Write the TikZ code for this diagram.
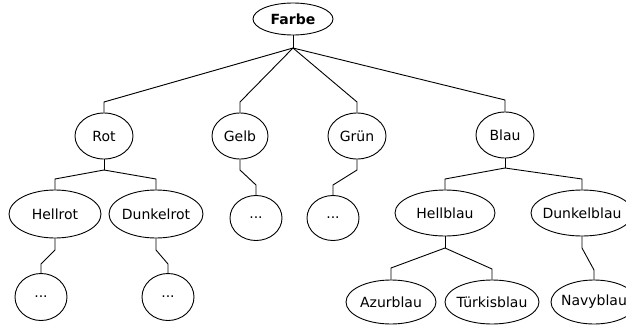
\documentclass[tikz,border=0pt]{standalone}
\usepackage{fontspec}
\setmainfont{DejaVu Sans}
\usetikzlibrary{shapes.geometric}
\tikzset{
  blob/.style={draw, ellipse, inner sep=0pt, line width=0.9pt, font=\fontsize{14}{16}\selectfont},
  link/.style={line width=0.9pt}
}
\newcommand{\blobnode}[6]{\node[blob, minimum width=#4pt, minimum height=#5pt] (#1) at (#2,#3) {\makebox[0pt]{#6}};}
\begin{document}
\begin{tikzpicture}[x=1pt,y=-1pt]
\useasboundingbox (0,0) rectangle (626,324);
% nodes
\blobnode{farbe}{293}{19}{80}{32}{\textbf{Farbe}}
\blobnode{rot}{104}{136}{58}{46}{Rot}
\blobnode{gelb}{240}{136}{56}{46}{Gelb}
\blobnode{gruen}{357}{136}{58}{46}{Grün}
\blobnode{blau}{505}{135}{58}{46}{Blau}
\blobnode{hellrot}{55}{214}{92}{48}{Hellrot}
\blobnode{dunkelrot}{156}{214}{94}{48}{Dunkelrot}
\blobnode{gd}{256}{218}{52}{45}{...}
\blobnode{grd}{333}{218}{52}{45}{...}
\blobnode{hellblau}{445}{213}{100}{46}{Hellblau}
\blobnode{dunkelblau}{582}{213}{102}{46}{Dunkelblau}
\blobnode{hrd}{41}{297}{52}{47}{...}
\blobnode{drd}{168}{297}{52}{47}{...}
\blobnode{azur}{391}{302}{90}{44}{Azurblau}
\blobnode{tuerkis}{492}{302}{94}{44}{Türkisblau}
\blobnode{navy}{594}{302}{86}{44}{Navyblau}
% bend points
\coordinate (j0) at (293,48);
\coordinate (kRot) at (104,102);
\coordinate (kGelb) at (240,102);
\coordinate (kGruen) at (357,102);
\coordinate (kBlau) at (505,100);
\coordinate (jRot) at (104,170);
\coordinate (kHr) at (55,179);
\coordinate (kDr) at (156,179);
\coordinate (jGelb) at (240,170);
\coordinate (kGd) at (256,185);
\coordinate (jGruen) at (357,170);
\coordinate (kGrd) at (333,185);
\coordinate (jHr) at (55,250);
\coordinate (kHrd) at (41,264);
\coordinate (jDr) at (156,250);
\coordinate (kDrd) at (168,264);
\coordinate (jBlau) at (505,168);
\coordinate (kHb) at (445,179);
\coordinate (kDb) at (582,179);
\coordinate (jHb) at (445,248);
\coordinate (kAz) at (391,268);
\coordinate (kTu) at (492,269);
\coordinate (jDb) at (582,248);
\coordinate (kNa) at (594,270);
% connectors
\draw[link] (farbe) -- (j0);
\draw[link] (j0) -- (kRot) -- (rot);
\draw[link] (j0) -- (kGelb) -- (gelb);
\draw[link] (j0) -- (kGruen) -- (gruen);
\draw[link] (j0) -- (kBlau) -- (blau);
\draw[link] (rot) -- (jRot);
\draw[link] (jRot) -- (kHr) -- (hellrot);
\draw[link] (jRot) -- (kDr) -- (dunkelrot);
\draw[link] (gelb) -- (jGelb) -- (kGd) -- (gd);
\draw[link] (gruen) -- (jGruen) -- (kGrd) -- (grd);
\draw[link] (hellrot) -- (jHr) -- (kHrd) -- (hrd);
\draw[link] (dunkelrot) -- (jDr) -- (kDrd) -- (drd);
\draw[link] (blau) -- (jBlau);
\draw[link] (jBlau) -- (kHb) -- (hellblau);
\draw[link] (jBlau) -- (kDb) -- (dunkelblau);
\draw[link] (hellblau) -- (jHb);
\draw[link] (jHb) -- (kAz) -- (azur);
\draw[link] (jHb) -- (kTu) -- (tuerkis);
\draw[link] (dunkelblau) -- (jDb) -- (kNa) -- (navy);
\end{tikzpicture}
\end{document}
